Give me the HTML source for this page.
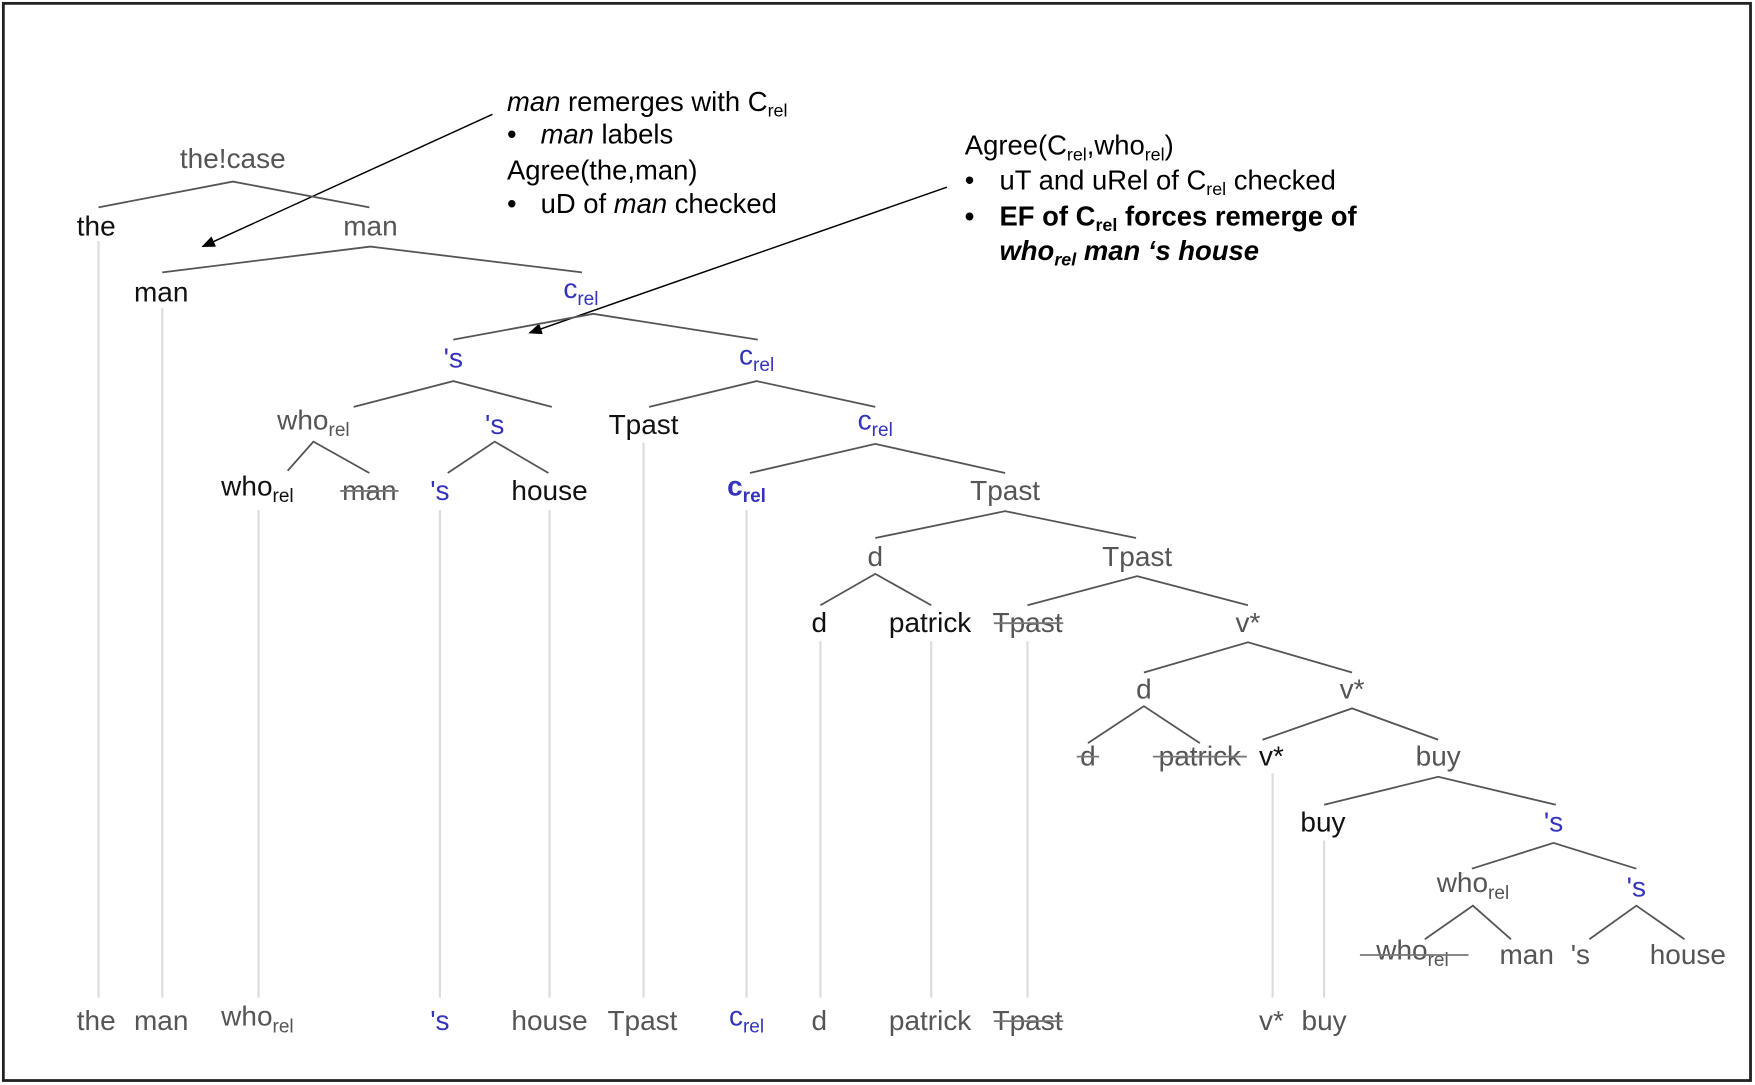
<!DOCTYPE html>
<html><head><meta charset="utf-8"><style>
html,body{margin:0;padding:0;background:#fff;}
svg{display:block;}
.t{font-family:"Liberation Sans",sans-serif;font-size:25px;text-anchor:middle;}
.k{fill:#111;} .g{fill:#555;} .b{fill:#3333bb;}
.a{font-family:"Liberation Sans",sans-serif;font-size:24.5px;fill:#000;}
.e{stroke:#555;stroke-width:1.6;fill:none;}
.v{stroke:#ddd;stroke-width:2;}
.s{stroke:#777;stroke-width:1.6;}
</style></head><body>
<svg width="1755" height="1085" viewBox="0 0 1568 968" preserveAspectRatio="none" xmlns="http://www.w3.org/2000/svg">
<defs><marker id="ar" markerWidth="12" markerHeight="10" refX="11" refY="5" orient="auto" markerUnits="userSpaceOnUse"><path d="M0,0 L12,5 L0,10 z" fill="#000"/></marker></defs>
<rect x="3" y="3" width="1561" height="961" fill="#fff" stroke="#222" stroke-width="2.5"/>

<text class="a" x="453" y="99"><tspan font-style="italic">man</tspan> remerges with C<tspan font-size="16" dy="5">rel</tspan></text>
<text class="a" x="453" y="128">•<tspan x="483" font-style="italic">man</tspan> labels</text>
<text class="a" x="453" y="160">Agree(the,man)</text>
<text class="a" x="453" y="190">•<tspan x="483">uD of </tspan><tspan font-style="italic">man</tspan> checked</text>
<line x1="440" y1="102" x2="181" y2="220" stroke="#000" stroke-width="1.3" marker-end="url(#ar)"/>

<text class="a" x="862" y="138">Agree(C<tspan font-size="16" dy="5">rel</tspan><tspan dy="-5">,who</tspan><tspan font-size="16" dy="5">rel</tspan><tspan dy="-5">)</tspan></text>
<text class="a" x="862" y="169">•<tspan x="893">uT and uRel of C</tspan><tspan font-size="16" dy="5">rel</tspan><tspan dy="-5"> checked</tspan></text>
<text class="a" x="862" y="201" font-weight="bold">•<tspan x="893">EF of C</tspan><tspan font-size="16" dy="5">rel</tspan><tspan dy="-5"> forces remerge of</tspan></text>
<text class="a" x="893" y="232" font-weight="bold" font-style="italic">who<tspan font-size="16" dy="5">rel</tspan><tspan dy="-5"> man ‘s house</tspan></text>
<line x1="846" y1="167" x2="473" y2="297" stroke="#000" stroke-width="1.3" marker-end="url(#ar)"/>

<g class="v">
<line x1="88" y1="215" x2="88" y2="890"/>
<line x1="145" y1="275" x2="145" y2="890"/>
<line x1="231" y1="455" x2="231" y2="890"/>
<line x1="393" y1="455" x2="393" y2="890"/>
<line x1="491" y1="455" x2="491" y2="890"/>
<line x1="575" y1="395" x2="575" y2="890"/>
<line x1="667" y1="455" x2="667" y2="890"/>
<line x1="733" y1="572" x2="733" y2="890"/>
<line x1="832" y1="572" x2="832" y2="890"/>
<line x1="918" y1="572" x2="918" y2="890"/>
<line x1="1137" y1="690" x2="1137" y2="890"/>
<line x1="1183" y1="750" x2="1183" y2="890"/>
</g>

<g class="e">
<polyline points="88,185 208,162 330,185"/>
<polyline points="145,243 331,220 520,243"/>
<polyline points="405,303 530,280 677,303"/>
<polyline points="316,363 405,340 493,363"/>
<polyline points="580,363 676,340 782,363"/>
<polyline points="257,420 280,394 330,422"/>
<polyline points="400,422 442,394 490,422"/>
<polyline points="670,422 782,396 898,422"/>
<polyline points="782,480 898,456 1015,480"/>
<polyline points="733,540 782,512 832,540"/>
<polyline points="918,540 1016,514 1115,540"/>
<polyline points="1022,600 1115,573 1208,600"/>
<polyline points="972,663 1022,630 1072,663"/>
<polyline points="1128,660 1208,632 1285,660"/>
<polyline points="1183,718 1285,693 1390,718"/>
<polyline points="1315,775 1388,752 1462,775"/>
<polyline points="1273,838 1316,808 1350,838"/>
<polyline points="1420,838 1462,808 1505,838"/>
</g>

<g class="t">
<text class="g" x="208" y="150">the!case</text>
<text class="k" x="86" y="210">the</text>
<text class="g" x="331" y="210">man</text>
<text class="k" x="144" y="269">man</text>
<text class="b" x="519" y="266">c<tspan font-size="17" dy="6">rel</tspan></text>
<text class="b" x="405" y="328">'s</text>
<text class="b" x="676" y="325">c<tspan font-size="17" dy="6">rel</tspan></text>
<text class="g" x="280" y="383">who<tspan font-size="17" dy="6">rel</tspan></text>
<text class="b" x="442" y="387">'s</text>
<text class="k" x="575" y="387">Tpast</text>
<text class="b" x="782" y="383">c<tspan font-size="17" dy="6">rel</tspan></text>
<text class="k" x="230" y="442">who<tspan font-size="17" dy="6">rel</tspan></text>
<text class="g" x="330" y="446">man</text>
<text class="b" x="393" y="446">'s</text>
<text class="k" x="491" y="446">house</text>
<text class="b" x="667" y="442" font-weight="bold">c<tspan font-size="17" dy="6">rel</tspan></text>
<text class="g" x="898" y="446">Tpast</text>
<text class="g" x="782" y="505">d</text>
<text class="g" x="1016" y="505">Tpast</text>
<text class="k" x="732" y="564">d</text>
<text class="k" x="831" y="564">patrick</text>
<text class="g" x="918" y="564">Tpast</text>
<text class="g" x="1115" y="564">v*</text>
<text class="g" x="1022" y="623">d</text>
<text class="g" x="1208" y="623">v*</text>
<text class="g" x="972" y="683">d</text>
<text class="g" x="1072" y="683">patrick</text>
<text class="k" x="1136" y="683">v*</text>
<text class="g" x="1285" y="683">buy</text>
<text class="k" x="1182" y="742">buy</text>
<text class="b" x="1388" y="742">'s</text>
<text class="g" x="1316" y="796">who<tspan font-size="17" dy="6">rel</tspan></text>
<text class="b" x="1462" y="800">'s</text>
<text class="g" x="1262" y="856">who<tspan font-size="17" dy="6">rel</tspan></text>
<text class="g" x="1364" y="860">man</text>
<text class="g" x="1412" y="860">'s</text>
<text class="g" x="1508" y="860">house</text>
<text class="g" x="86" y="919">the</text>
<text class="g" x="144" y="919">man</text>
<text class="g" x="230" y="915">who<tspan font-size="17" dy="6">rel</tspan></text>
<text class="b" x="393" y="919">'s</text>
<text class="g" x="491" y="919">house</text>
<text class="g" x="574" y="919">Tpast</text>
<text class="b" x="667" y="915">c<tspan font-size="17" dy="6">rel</tspan></text>
<text class="g" x="732" y="919">d</text>
<text class="g" x="831" y="919">patrick</text>
<text class="g" x="918" y="919">Tpast</text>
<text class="g" x="1136" y="919">v*</text>
<text class="g" x="1183" y="919">buy</text>
</g>
<g class="s">
<line x1="304" y1="438" x2="356" y2="438"/>
<line x1="888" y1="556" x2="950" y2="556"/>
<line x1="962" y1="675" x2="982" y2="675"/>
<line x1="1030" y1="675" x2="1114" y2="675"/>
<line x1="1215" y1="852" x2="1312" y2="852"/>
<line x1="888" y1="911" x2="950" y2="911"/>
</g>
</svg>
</body></html>
